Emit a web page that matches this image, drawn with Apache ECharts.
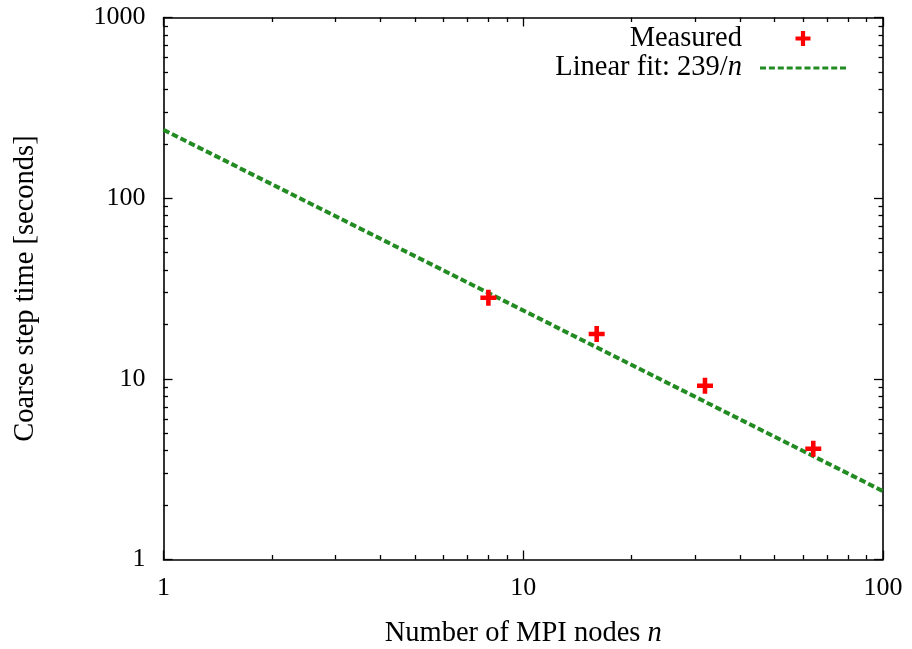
<!DOCTYPE html>
<html>
<head>
<meta charset="utf-8">
<script src="https://cdn.jsdelivr.net/npm/echarts@6/dist/echarts.min.js"></script>
<style>
  html, body { margin: 0; padding: 0; background: #fff; }
  #chart { width: 912px; height: 649px; }
</style>
</head>
<body>
<div id="chart"></div>
<script>
// Measured coarse step time per MPI node count
const nodes = [8, 16, 32, 64];
const stepTimes = [28.1, 17.7, 9.15, 4.1];

// Linear fit 239/n, end points of the fitted range
const fitNodes = [1, 100];
const fitTimes = [239, 2.39];

// Tick values (decades) and minor ticks (2..9 in each decade)
const xMajorTicks = [1, 10, 100];
const xMinorTicks = [2, 3, 4, 5, 6, 7, 8, 9, 20, 30, 40, 50, 60, 70, 80, 90];
const yMajorTicks = [1, 10, 100, 1000];
const yMinorTicks = [2, 3, 4, 5, 6, 7, 8, 9, 20, 30, 40, 50, 60, 70, 80, 90, 200, 300, 400, 500, 600, 700, 800, 900];

const FONT = '"Liberation Serif", "DejaVu Serif", serif';
const FS_TICK = 26;
const FS_TEXT = 28.5;
const RED = '#ff0000';
const GREEN = '#228b22';

// plus marker used on the plot
const PLUS = 'path://M5,0H9V5H14V9H9V14H5V9H0V5H5Z';
// legend keys, both drawn in an 86 x 15 box (tiny corner dots fix the box size)
const BOX = 'M0,0h0.01v0.01h-0.01z M85.99,14.99h0.01v0.01h-0.01z ';
const LEG_PLUS = 'path://' + BOX + 'M40.9,0H45.1V5.4H50.5V9.6H45.1V15H40.9V9.6H35.5V5.4H40.9Z';
const LEG_DASH = 'path://' + BOX +
  'M0,6h6v3h-6z M8.9,6h6v3h-6z M17.8,6h6v3h-6z M26.7,6h6v3h-6z M35.6,6h6v3h-6z ' +
  'M44.5,6h6v3h-6z M53.4,6h6v3h-6z M62.3,6h6v3h-6z M71.2,6h6v3h-6z M80,6h6v3h-6z';

const rich = {
  t: { fontFamily: FONT, fontSize: FS_TEXT, color: '#000' },
  i: { fontFamily: FONT, fontSize: FS_TEXT, color: '#000', fontStyle: 'italic' }
};

function axisPair(kind, pos, min, max, major, minor, withLabels, extra) {
  const base = {
    type: 'log', logBase: 10, min: min, max: max, position: pos,
    splitLine: { show: false }, minorTick: { show: false }
  };
  const main = Object.assign({}, base, {
    axisLine: { show: true, onZero: false, lineStyle: { color: '#000', width: 1.6 } },
    axisTick: { show: true, inside: true, length: 9, customValues: major, lineStyle: { color: '#000', width: 1.3 } },
    axisLabel: withLabels
      ? {
          show: true, customValues: major, fontFamily: FONT, fontSize: FS_TICK, color: '#000',
          margin: kind === 'x' ? 16 : 18,
          formatter: function (v) { return String(Math.round(v)); }
        }
      : { show: false }
  }, extra || {});
  const sub = Object.assign({}, base, {
    axisLine: { show: false },
    axisTick: { show: true, inside: true, length: 4.5, customValues: minor, lineStyle: { color: '#000', width: 1.3 } },
    axisLabel: { show: false }
  });
  return [main, sub];
}

const xAxes = [].concat(
  axisPair('x', 'bottom', 1, 100, xMajorTicks, xMinorTicks, true, {
    name: '{t|Number of MPI nodes }{i|n}',
    nameLocation: 'middle', nameGap: 60,
    nameTextStyle: { rich: rich }
  }),
  axisPair('x', 'top', 1, 100, xMajorTicks, xMinorTicks, false)
);

const yAxes = [].concat(
  axisPair('y', 'left', 1, 1000, yMajorTicks, yMinorTicks, true, {
    name: 'Coarse step time [seconds]',
    nameLocation: 'middle', nameGap: 123, nameRotate: 90,
    nameTextStyle: { fontFamily: FONT, fontSize: FS_TEXT, color: '#000' }
  }),
  axisPair('y', 'right', 1, 1000, yMajorTicks, yMinorTicks, false)
);

function legendAt(top, name, icon, label) {
  return {
    data: [{ name: name, icon: icon }],
    orient: 'vertical', align: 'right', right: 61, top: top,
    itemWidth: 86, itemHeight: 15, symbolKeepAspect: false,
    selectedMode: false,
    formatter: function () { return label; },
    textStyle: { padding: [0, 13, 0, 0], lineHeight: 30, rich: rich }
  };
}

const chart = echarts.init(document.getElementById('chart'), null, { renderer: 'canvas' });

chart.setOption({
  backgroundColor: '#fff',
  animation: false,
  grid: {
    left: 163.5, right: 29, top: 17.5, bottom: 89.5,
    containLabel: false, outerBoundsMode: 'none'
  },
  xAxis: xAxes,
  yAxis: yAxes,
  legend: [
    legendAt(18.5, 'Measured', LEG_PLUS, '{t|Measured}'),
    legendAt(48, 'Linear fit: 239/n', LEG_DASH, '{t|Linear fit: 239/}{i|n}')
  ],
  series: [
    {
      name: 'Linear fit: 239/n',
      type: 'line',
      xAxisIndex: 0, yAxisIndex: 0,
      data: fitNodes.map((n, i) => [n, fitTimes[i]]),
      symbol: 'none',
      color: GREEN,
      itemStyle: { color: GREEN },
      lineStyle: { color: GREEN, width: 4, type: [6.5, 3], cap: 'butt' },
      z: 2
    },
    {
      name: 'Measured',
      type: 'scatter',
      xAxisIndex: 0, yAxisIndex: 0,
      data: nodes.map((n, i) => [n, stepTimes[i]]),
      symbol: PLUS,
      symbolSize: 16,
      itemStyle: { color: RED, opacity: 1 },
      z: 3
    }
  ]
});
</script>
</body>
</html>
